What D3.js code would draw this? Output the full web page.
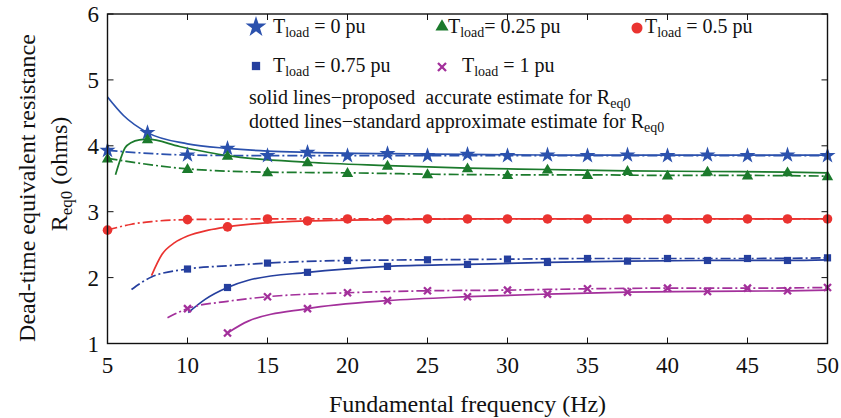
<!DOCTYPE html>
<html><head><meta charset="utf-8">
<script src="https://cdn.jsdelivr.net/npm/d3@7"></script>
<style>
html,body{margin:0;padding:0;background:#fff;}
svg text{font-family:"DejaVu Serif";}
svg text.t{font-family:"Liberation Serif","Times New Roman",Times,"DejaVu Serif",serif;}
</style></head>
<body>
<svg id="c" width="841" height="418"></svg>
<script>
// ---- data ----
const xTicks = [5,10,15,20,25,30,35,40,45,50];
const yTicks = [1,2,3,4,5,6];

// T_load = 0 pu
const solidF0 = [5, 6, 7.5, 10, 12.5, 15, 17.5, 22.5, 27.5, 32.5, 37.5, 42.5, 47.5, 50];
const solidV0 = [4.74, 4.46, 4.20, 4.03, 3.96, 3.92, 3.90, 3.88, 3.87, 3.86, 3.86, 3.86, 3.86, 3.86];
const dashF0  = [5, 10, 15, 20, 25, 30, 35, 40, 45, 50];
const dashV0  = [3.93, 3.86, 3.85, 3.85, 3.85, 3.85, 3.85, 3.85, 3.85, 3.85];
// T_load = 0.25 pu
const solidF1 = [5.5, 5.8, 6.1, 6.5, 7, 7.5, 9.5, 12.5, 17.5, 22.5, 27.5, 32.5, 37.5, 42.5, 47.5, 50];
const solidV1 = [3.56, 3.79, 3.97, 4.05, 4.09, 4.10, 3.99, 3.85, 3.75, 3.70, 3.66, 3.64, 3.62, 3.61, 3.60, 3.59];
const dashF1  = [5, 10, 15, 20, 25, 30, 35, 40, 45, 50];
const dashV1  = [3.81, 3.65, 3.60, 3.59, 3.57, 3.56, 3.56, 3.55, 3.55, 3.54];
// T_load = 0.5 pu
const solidF2 = [7.75, 8.4, 9.2, 10, 11.3, 12.5, 17.5, 22.5, 27.5, 32.5, 37.5, 42.5, 47.5, 50];
const solidV2 = [2.03, 2.35, 2.53, 2.63, 2.72, 2.77, 2.86, 2.88, 2.89, 2.89, 2.89, 2.89, 2.89, 2.89];
const dashF2  = [5, 6.5, 7.75, 10, 15, 20, 25, 30, 35, 40, 45, 50];
const dashV2  = [2.72, 2.81, 2.85, 2.88, 2.89, 2.89, 2.89, 2.89, 2.89, 2.89, 2.89, 2.89];
// T_load = 0.75 pu
const solidF3 = [10.05, 11.1, 12.5, 13.8, 17.5, 22.5, 27.5, 32.5, 37.5, 42.5, 47.5, 50];
const solidV3 = [1.47, 1.67, 1.85, 1.96, 2.08, 2.17, 2.20, 2.23, 2.25, 2.26, 2.26, 2.27];
const dashF3  = [6.5, 7.75, 10, 12.5, 15, 20, 25, 30, 35, 40, 45, 50];
const dashV3  = [1.82, 2.01, 2.13, 2.18, 2.22, 2.26, 2.27, 2.28, 2.29, 2.29, 2.29, 2.30];
// T_load = 1 pu
const solidF4 = [12.5, 13.8, 17.5, 22.5, 27.5, 32.5, 37.5, 42.5, 47.5, 50];
const solidV4 = [1.16, 1.34, 1.53, 1.65, 1.71, 1.75, 1.78, 1.79, 1.80, 1.81];
const dashF4  = [8.75, 10, 12.5, 15, 20, 25, 30, 35, 40, 45, 50];
const dashV4  = [1.39, 1.53, 1.64, 1.71, 1.77, 1.80, 1.81, 1.83, 1.84, 1.84, 1.85];

const seriesNames = ["0", "0.25", "0.5", "0.75", "1"];
const seriesColors = ["#2b51ad", "#1b7a2c", "#ea3330", "#253f9e", "#a3309b"];
const seriesMarkers = ["star", "triangle", "circle", "square", "x"];

// ---- layout ----
const svg = d3.select("#c");
const L = 107.5, R = 827.5, T = 14, B = 343.5;
const x = d3.scaleLinear().domain([5, 50]).range([L, R]);
const y = d3.scaleLinear().domain([1, 6]).range([B, T]);

const series = [
  {sf: solidF0, sv: solidV0, df: dashF0, dv: dashV0},
  {sf: solidF1, sv: solidV1, df: dashF1, dv: dashV1},
  {sf: solidF2, sv: solidV2, df: dashF2, dv: dashV2},
  {sf: solidF3, sv: solidV3, df: dashF3, dv: dashV3},
  {sf: solidF4, sv: solidV4, df: dashF4, dv: dashV4}
].map((s, i) => ({
  solid: s.sf.map((f, j) => ({f, v: s.sv[j]})),
  dash: s.df.map((f, j) => ({f, v: s.dv[j]})),
  color: seriesColors[i], marker: seriesMarkers[i], name: seriesNames[i]
}));

const line = d3.line().x(d => x(d.f)).y(d => y(d.v)).curve(d3.curveMonotoneX);

function drawMarker(g, type, cx, cy, color, scale) {
  scale = scale || 1;
  if (type === "star") {
    g.append("path").attr("d", d3.symbol().type(d3.symbolStar).size(80 * scale * scale)())
      .attr("transform", `translate(${cx},${cy})`).attr("fill", color);
  } else if (type === "triangle") {
    g.append("path").attr("d", d3.symbol().type(d3.symbolTriangle).size(56 * scale * scale)())
      .attr("transform", `translate(${cx},${cy + 0.8})`).attr("fill", color);
  } else if (type === "circle") {
    g.append("circle").attr("cx", cx).attr("cy", cy).attr("r", 4.8 * scale).attr("fill", color);
  } else if (type === "square") {
    const s = 7.2 * scale;
    g.append("rect").attr("x", cx - s / 2).attr("y", cy - s / 2).attr("width", s).attr("height", s).attr("fill", color);
  } else if (type === "x") {
    const r = 3.5 * scale;
    g.append("path").attr("d", `M${cx - r},${cy - r}L${cx + r},${cy + r}M${cx - r},${cy + r}L${cx + r},${cy - r}`)
      .attr("stroke", color).attr("stroke-width", 2.3).attr("fill", "none");
  }
}

// ---- curves ----
const gp = svg.append("g");
series.forEach(s => {
  gp.append("path").attr("d", line(s.dash)).attr("fill", "none").attr("stroke", s.color)
    .attr("stroke-width", 1.7).attr("stroke-dasharray", "10,3,2,3");
  gp.append("path").attr("d", line(s.solid)).attr("fill", "none").attr("stroke", s.color)
    .attr("stroke-width", 1.7);
});
series.forEach(s => {
  s.dash.filter(d => d.f % 5 === 0).forEach(d => drawMarker(gp, s.marker, x(d.f), y(d.v), s.color));
  s.solid.filter(d => d.f % 5 === 2.5).forEach(d => drawMarker(gp, s.marker, x(d.f), y(d.v), s.color));
});

// ---- axes ----
const ga = svg.append("g");
ga.append("rect").attr("x", L).attr("y", T).attr("width", R - L).attr("height", B - T)
  .attr("fill", "none").attr("stroke", "#111").attr("stroke-width", 1.4);
const tl = 6;
xTicks.forEach(t => {
  ga.append("line").attr("x1", x(t)).attr("x2", x(t)).attr("y1", B).attr("y2", B - tl).attr("stroke", "#111").attr("stroke-width", 1);
  ga.append("line").attr("x1", x(t)).attr("x2", x(t)).attr("y1", T).attr("y2", T + tl).attr("stroke", "#111").attr("stroke-width", 1);
  ga.append("text").attr("class", "t").attr("x", x(t)).attr("y", 373).attr("text-anchor", "middle").attr("font-size", 23).attr("fill", "#111").text(t);
});
yTicks.forEach(t => {
  ga.append("line").attr("x1", L).attr("x2", L + tl).attr("y1", y(t)).attr("y2", y(t)).attr("stroke", "#111").attr("stroke-width", 1);
  ga.append("line").attr("x1", R).attr("x2", R - tl).attr("y1", y(t)).attr("y2", y(t)).attr("stroke", "#111").attr("stroke-width", 1);
  ga.append("text").attr("class", "t").attr("x", 99).attr("y", y(t) + 8).attr("text-anchor", "end").attr("font-size", 23).attr("fill", "#111").text(t);
});

// axis titles
svg.append("text").attr("class", "t").attr("x", (L + R) / 2).attr("y", 412).attr("text-anchor", "middle")
  .attr("font-size", 24).attr("fill", "#111").text("Fundamental frequency (Hz)");
svg.append("text").attr("class", "t").attr("transform", "translate(35,188) rotate(-90)").attr("text-anchor", "middle")
  .attr("font-size", 24).attr("fill", "#111").text("Dead-time equivalent resistance");
const yt2 = svg.append("text").attr("class", "t").attr("transform", "translate(67,174) rotate(-90)").attr("text-anchor", "middle")
  .attr("font-size", 24).attr("fill", "#111");
yt2.append("tspan").text("R");
yt2.append("tspan").attr("font-size", 17).attr("dy", 5).text("eq0");
yt2.append("tspan").attr("dy", -5).text(" (ohms)");

// ---- legend ----
const lg = svg.append("g");
const legendPos = [
  {mx: 256, my: 27, tx: 273, ty: 33, eq: " = "},
  {mx: 442, my: 26, tx: 448, ty: 33, eq: "= "},
  {mx: 637, my: 28, tx: 645, ty: 33, eq: " = "},
  {mx: 256, my: 66, tx: 273, ty: 72, eq: " = "},
  {mx: 442, my: 67, tx: 462, ty: 72, eq: " = "}
];
series.forEach((s, i) => {
  const p = legendPos[i];
  drawMarker(lg, s.marker, p.mx, p.my, s.color, i === 0 ? 1.3 : 1.15);
  const t = lg.append("text").attr("class", "t").attr("x", p.tx).attr("y", p.ty).attr("font-size", 20).attr("fill", "#111").style("white-space", "pre");
  t.append("tspan").text("T");
  t.append("tspan").attr("font-size", 14).attr("dy", 4).text("load");
  t.append("tspan").attr("dy", -4).text(p.eq + s.name + " pu");
});
const note1 = lg.append("text").attr("class", "t").attr("x", 249).attr("y", 104).attr("font-size", 20).attr("fill", "#111").style("white-space", "pre");
note1.append("tspan").text("solid lines\u2212proposed  accurate estimate for R");
note1.append("tspan").attr("font-size", 14).attr("dy", 4).text("eq0");
const note2 = lg.append("text").attr("class", "t").attr("x", 249).attr("y", 128).attr("font-size", 20).attr("fill", "#111").style("white-space", "pre");
note2.append("tspan").text("dotted lines\u2212standard approximate estimate for R");
note2.append("tspan").attr("font-size", 14).attr("dy", 4).text("eq0");
</script>
</body></html>
